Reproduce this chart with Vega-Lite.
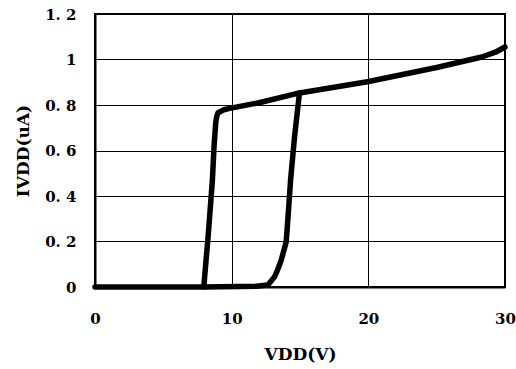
{
  "$schema": "https://vega.github.io/schema/vega-lite/v6.json",
  "width": 410,
  "height": 273,
  "autosize": "none",
  "padding": {"left": 95, "top": 14, "right": 11, "bottom": 82},
  "background": "white",
  "config": {
    "view": {"stroke": "black", "strokeWidth": 2},
    "axis": {
      "labelFont": "DejaVu Serif",
      "labelFontWeight": "bold",
      "labelFontSize": 15,
      "labelColor": "black",
      "labelFlush": false,
      "labelOverlap": false,
      "titleFont": "DejaVu Serif",
      "titleFontWeight": "bold",
      "titleFontSize": 17,
      "titleColor": "black",
      "gridColor": "black",
      "gridWidth": 1,
      "gridOpacity": 1,
      "domainColor": "black",
      "domainWidth": 2,
      "ticks": false
    }
  },
  "data": {
    "values": [
      {"branch": "up", "order": 1, "vdd": 0, "ivdd": 0},
      {"branch": "up", "order": 2, "vdd": 7.96, "ivdd": 0},
      {"branch": "up", "order": 3, "vdd": 8.3, "ivdd": 0.24},
      {"branch": "up", "order": 4, "vdd": 8.59, "ivdd": 0.47},
      {"branch": "up", "order": 5, "vdd": 8.71, "ivdd": 0.617},
      {"branch": "up", "order": 6, "vdd": 8.83, "ivdd": 0.72},
      {"branch": "up", "order": 7, "vdd": 8.9, "ivdd": 0.748},
      {"branch": "up", "order": 8, "vdd": 9.0, "ivdd": 0.765},
      {"branch": "up", "order": 9, "vdd": 9.37, "ivdd": 0.778},
      {"branch": "up", "order": 10, "vdd": 9.85, "ivdd": 0.785},
      {"branch": "up", "order": 11, "vdd": 12.0, "ivdd": 0.81},
      {"branch": "up", "order": 12, "vdd": 14.96, "ivdd": 0.853},
      {"branch": "up", "order": 13, "vdd": 19.93, "ivdd": 0.902},
      {"branch": "up", "order": 14, "vdd": 25.0, "ivdd": 0.965},
      {"branch": "up", "order": 15, "vdd": 28.3, "ivdd": 1.011},
      {"branch": "up", "order": 16, "vdd": 29.3, "ivdd": 1.032},
      {"branch": "up", "order": 17, "vdd": 30.0, "ivdd": 1.055},
      {"branch": "down", "order": 1, "vdd": 14.96, "ivdd": 0.853},
      {"branch": "down", "order": 2, "vdd": 14.6, "ivdd": 0.66},
      {"branch": "down", "order": 3, "vdd": 14.31, "ivdd": 0.47},
      {"branch": "down", "order": 4, "vdd": 14.15, "ivdd": 0.33},
      {"branch": "down", "order": 5, "vdd": 13.99, "ivdd": 0.198},
      {"branch": "down", "order": 6, "vdd": 13.63, "ivdd": 0.119},
      {"branch": "down", "order": 7, "vdd": 13.36, "ivdd": 0.075},
      {"branch": "down", "order": 8, "vdd": 13.14, "ivdd": 0.045},
      {"branch": "down", "order": 9, "vdd": 12.65, "ivdd": 0.009},
      {"branch": "down", "order": 10, "vdd": 11.8, "ivdd": 0.003},
      {"branch": "down", "order": 11, "vdd": 8.0, "ivdd": 0}
    ]
  },
  "mark": {"type": "line", "color": "black", "strokeWidth": 5.5, "strokeJoin": "round", "strokeCap": "round", "clip": false},
  "encoding": {
    "x": {
      "field": "vdd", "type": "quantitative",
      "scale": {"domain": [0, 30], "nice": false, "zero": false},
      "axis": {
        "title": "VDD(V)",
        "values": [0, 10, 20, 30],
        "labelPadding": 24,
        "labelExpr": "format(datum.value, '~g')",
        "titleBaseline": "alphabetic",
        "titleY": 72
      }
    },
    "y": {
      "field": "ivdd", "type": "quantitative",
      "scale": {"domain": [0, 1.2], "nice": false},
      "axis": {
        "title": "IVDD(uA)",
        "values": [0, 0.2, 0.4, 0.6, 0.8, 1, 1.2],
        "labelPadding": 19,
        "labelExpr": "replace(format(datum.value, '~g'), '.', '. ')",
        "titleBaseline": "alphabetic",
        "titleX": -67
      }
    },
    "detail": {"field": "branch"},
    "order": {"field": "order", "type": "quantitative"}
  }
}
